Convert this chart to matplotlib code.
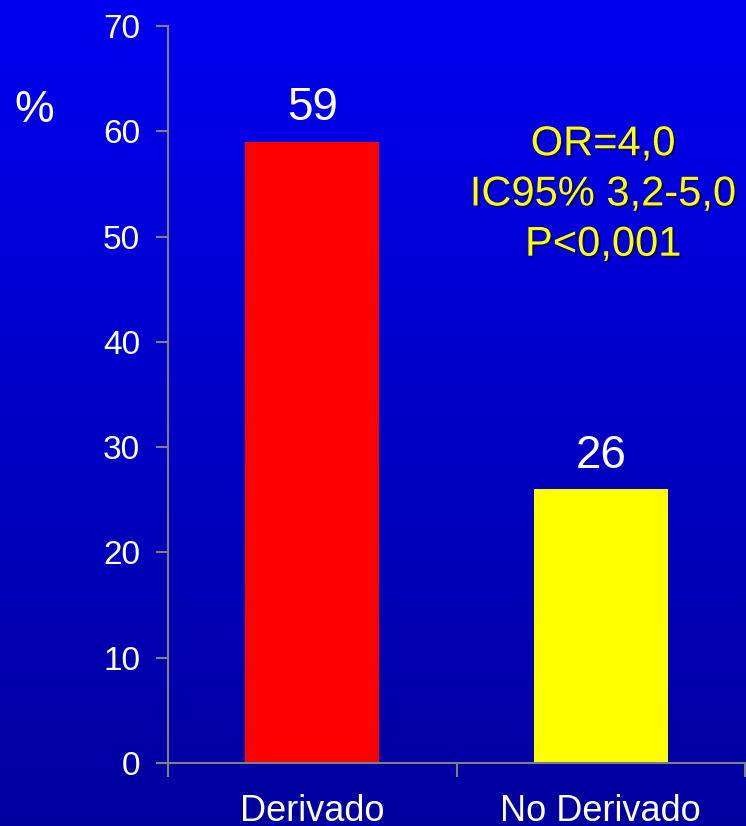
import numpy as np
import matplotlib
matplotlib.use("Agg")
import matplotlib.pyplot as plt
import matplotlib.patheffects as pe

plt.rcParams['font.family'] = ['Liberation Sans', 'DejaVu Sans']

categories = ["Derivado", "No Derivado"]
values = [59, 26]
bar_colors = ["#FF0000", "#FFFF00"]
yticks = [0, 10, 20, 30, 40, 50, 60, 70]
stats_text = "OR=4,0\nIC95% 3,2-5,0\nP<0,001"

fig = plt.figure(figsize=(7.46, 8.26), dpi=100)

# blue gradient background
bg = fig.add_axes([0, 0, 1, 1], zorder=0)
grad = np.linspace(0, 1, 256).reshape(-1, 1)
cmap = matplotlib.colors.LinearSegmentedColormap.from_list("bg", ["#0000F0", "#00009E"])
bg.imshow(grad, aspect="auto", cmap=cmap, extent=[0, 1, 0, 1])
bg.axis("off")

ax = fig.add_axes([0.2252, 0.0763, 0.7735, 0.8922], zorder=1)
ax.patch.set_alpha(0)

x = np.arange(len(categories))
ax.bar(x, values, width=0.465, color=bar_colors)

for xi, v in zip(x, values):
    ax.text(xi, v + 1.1, str(v), ha="center", va="bottom", color="white", fontsize=33)

ax.set_xlim(-0.5, 1.5)
ax.set_ylim(0, 70)
ax.set_yticks(yticks)
ax.tick_params(axis="y", colors="#808080", labelcolor="white", labelsize=24,
               length=9, width=1.5, pad=11)
ax.set_xticks([-0.5, 0.5, 1.5])
ax.set_xticklabels([])
ax.set_xticks(x, minor=True)
ax.set_xticklabels(categories, minor=True)
ax.tick_params(axis="x", which="major", colors="#808080", length=10, width=1.5)
ax.tick_params(axis="x", which="minor", length=0, labelcolor="white",
               labelsize=26, pad=22)

for side in ["top", "right"]:
    ax.spines[side].set_visible(False)
for side in ["left", "bottom"]:
    ax.spines[side].set_color("#808080")
    ax.spines[side].set_linewidth(1.5)

fig.text(0.046, 0.866, "%", color="white", fontsize=32, ha="center", va="center")

ax.text(1.008, 54.0, stats_text, color="#FFFF00", fontsize=30, ha="center", va="center",
        linespacing=1.33,
        path_effects=[pe.withSimplePatchShadow(offset=(1.5, -1.5), shadow_rgbFace="#000033", alpha=0.5)])

fig.savefig("out.png", dpi=100)
